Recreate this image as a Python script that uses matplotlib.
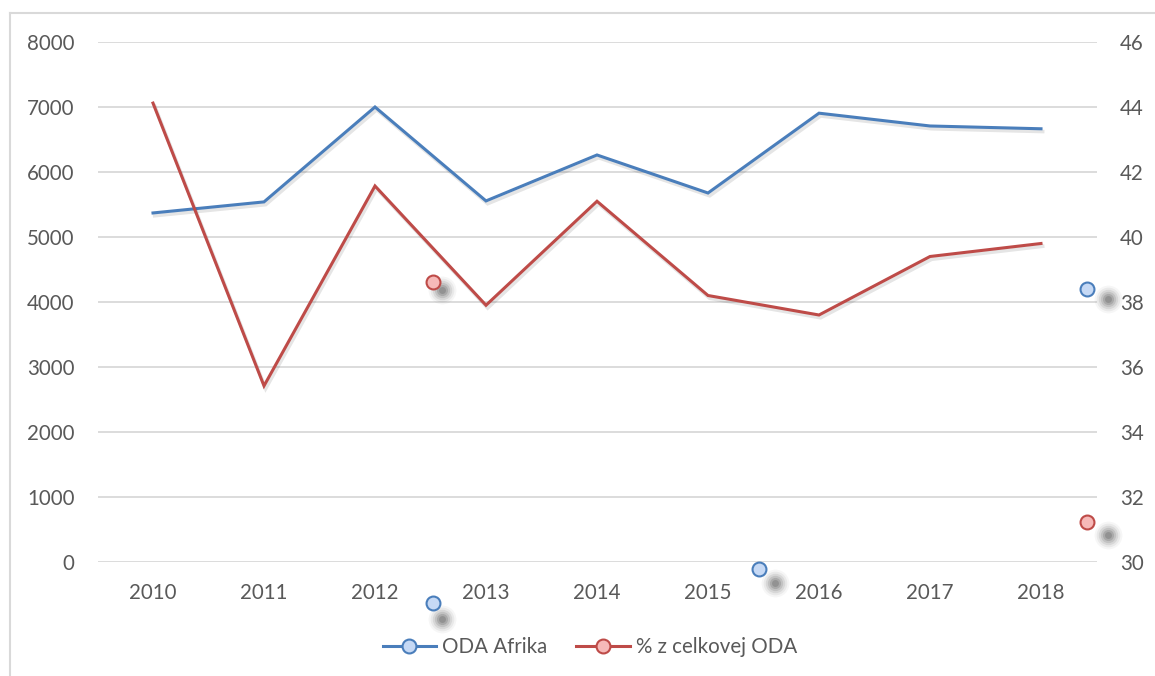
import matplotlib
matplotlib.use("Agg")
import matplotlib.pyplot as plt
import matplotlib.patheffects as pe
import matplotlib.transforms as mtransforms
from matplotlib.lines import Line2D
import numpy as np

years = ["2010", "2011", "2012", "2013", "2014", "2015", "2016", "2017", "2018"]
oda_afrika = [5370, 5540, 7000, 5555, 6262, 5677, 6905, 6708, 6665]
pct_total = [44.12, 35.42, 41.57, 37.9, 41.1, 38.2, 37.6, 39.4, 39.8]

left_ticks = [0, 1000, 2000, 3000, 4000, 5000, 6000, 7000, 8000]
right_ticks = [30, 32, 34, 36, 38, 40, 42, 44, 46]

# loose series markers floating over the chart (pixel positions, with shadow centres)
loose_blue = [(433, 603, 442, 619), (759, 569, 775, 583), (1087, 289, 1108, 299)]
loose_red = [(433, 282, 442, 290), (1087, 522, 1108, 535)]

BLUE = "#4A7EBB"
RED = "#BE4B48"
BLUE_FILL = "#C6D9F5"
RED_FILL = "#F6B9B8"
GRID = "#D9D9D9"
TEXT = "#595959"
FS = 14.8

W, H = 1155, 676
plt.rcParams["font.family"] = ["Lato", "DejaVu Sans"]
plt.rcParams["ytick.major.pad"] = 16.5
plt.rcParams["xtick.major.pad"] = 15
plt.rcParams["ytick.major.size"] = 0
plt.rcParams["xtick.major.size"] = 0

fig = plt.figure(figsize=(W / 100, H / 100), dpi=100)
ax = fig.add_axes([97.5 / W, (H - 562) / H, (1096.5 - 97.5) / W, 520 / H])
ax2 = ax.twinx()

x = np.arange(len(years))
shadow = [pe.SimpleLineShadow(offset=(1.2, -2.0), shadow_color="#000000", alpha=0.1, linewidth=2.6),
          pe.Normal()]

ax.plot(x, oda_afrika, color=BLUE, lw=2.2, solid_joinstyle="miter", path_effects=shadow, zorder=3)
ax2.plot(x, pct_total, color=RED, lw=2.2, solid_joinstyle="miter", path_effects=shadow, zorder=3)

ax.set_xlim(-0.5, len(years) - 0.5)
ax.set_ylim(0, 8000)
ax2.set_ylim(30, 46)
ax.set_yticks(left_ticks)
ax2.set_yticks(right_ticks)
ax2.set_yticklabels([])
ax.set_xticks(x)
ax.set_xticklabels(years)

for a in (ax, ax2):
    for s in a.spines.values():
        s.set_visible(False)
    a.tick_params(length=0, colors=TEXT, labelsize=FS)
ax.grid(axis="y", color=GRID, lw=1.3)
ax.set_axisbelow(True)

# right-hand scale labels, a fixed gap to the right of the plot area
right_tr = mtransforms.offset_copy(ax2.get_yaxis_transform(), fig=fig, x=23.5, y=0, units="dots")
for v in right_ticks:
    ax2.text(1, v, str(v), transform=right_tr, ha="left", va="center_baseline",
             fontsize=FS, color=TEXT, clip_on=False)

# chart frame
fig.add_artist(Line2D([10 / W, 10 / W], [0, (H - 13) / H], color=GRID, lw=1.5, transform=fig.transFigure))
fig.add_artist(Line2D([10 / W, 1], [(H - 13) / H, (H - 13) / H], color=GRID, lw=1.5, transform=fig.transFigure))

# loose markers with soft shadows
def loose(points, edge, fill):
    for cx, cy, sx, sy in points:
        fx, fy = cx / W, (H - cy) / H
        gx, gy = sx / W, (H - sy) / H
        for r, al in [(20, 0.05), (17, 0.08), (14, 0.12), (11, 0.16), (8, 0.22), (5, 0.28)]:
            fig.add_artist(Line2D([gx], [gy], marker="o", ms=r, mfc="#555555", mec="none",
                                  alpha=al, transform=fig.transFigure))
        fig.add_artist(Line2D([fx], [fy], marker="o", ms=10, mfc=fill, mec=edge, mew=1.5,
                              transform=fig.transFigure, zorder=5))

loose(loose_blue, BLUE, BLUE_FILL)
loose(loose_red, RED, RED_FILL)

handles = [
    Line2D([], [], color=BLUE, lw=2.2, marker="o", ms=10, mfc=BLUE_FILL, mec=BLUE, mew=1.5),
    Line2D([], [], color=RED, lw=2.2, marker="o", ms=10, mfc=RED_FILL, mec=RED, mew=1.5),
]
leg = fig.legend(handles, ["ODA Afrika", "% z celkovej ODA"], loc="center",
                 bbox_to_anchor=(590 / W, (H - 647) / H), ncol=2, frameon=False,
                 fontsize=FS, handlelength=2.6, handletextpad=0.3, columnspacing=1.4)
for t in leg.get_texts():
    t.set_color(TEXT)

fig.savefig("out.png", dpi=100, facecolor="white")
